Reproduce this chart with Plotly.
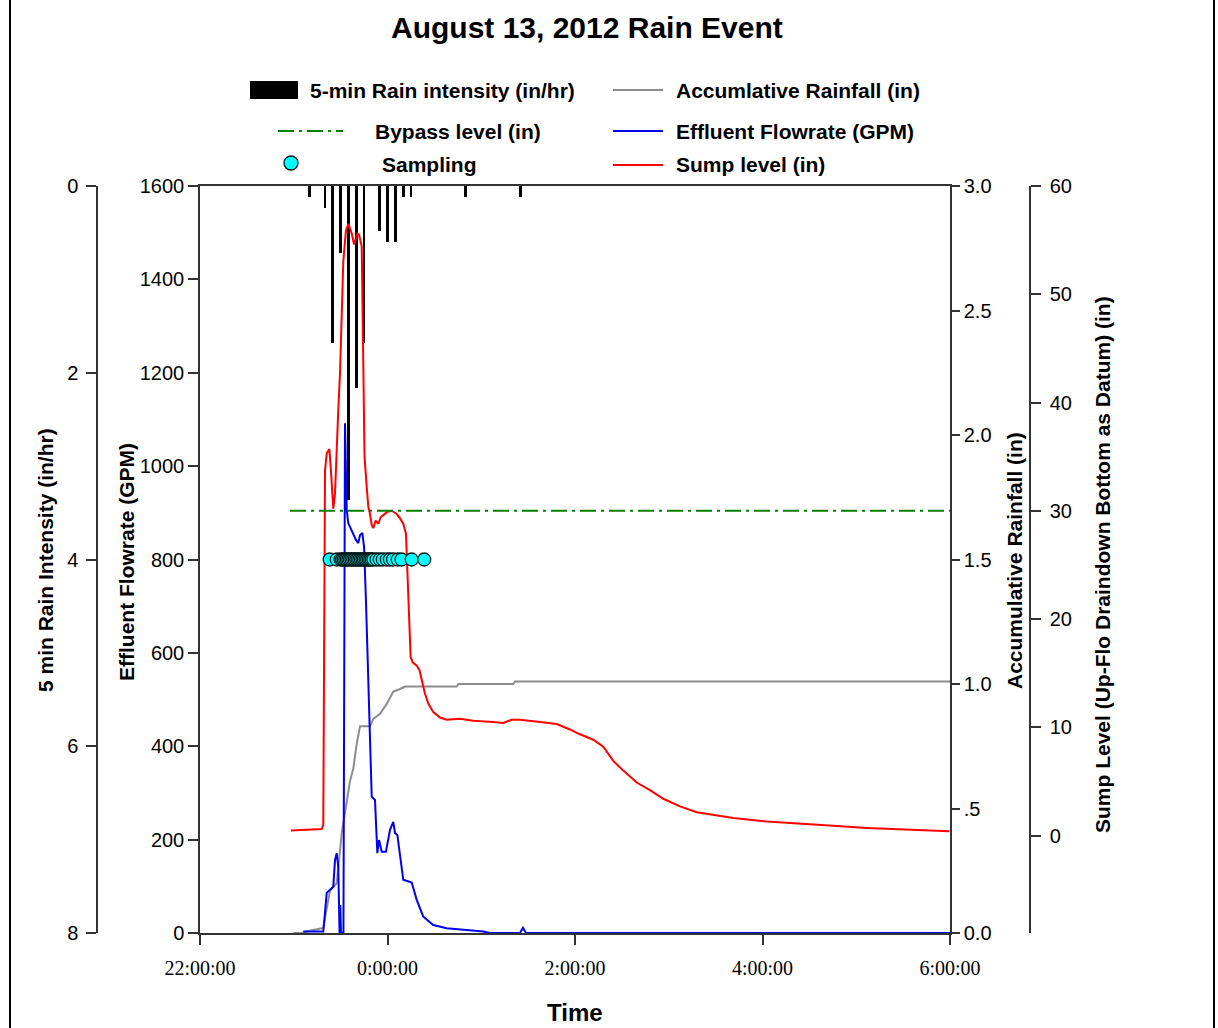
import pandas as pd
import plotly.graph_objects as go

W, H = 1218, 1028

# ---------------- data (time = minutes from midnight, Aug 13 2012) ----------------
# 5-min rain intensity (in/hr)
rain_t_min = [-50, -40, -35, -30, -25, -20, -15, -5, 0, 5, 10, 15, 50, 85]
rain_in_hr = [0.12, 0.24, 1.68, 0.72, 3.36, 2.16, 1.68, 0.48, 0.60, 0.60, 0.12, 0.12, 0.12, 0.12]

# accumulative rainfall (in)
cum_t_min = [-60.3, -55, -49, -41.1, -36.8, -32.5, -29.3, -26.1, -24.0, -21.9, -19.7, -17.6,
             -11.2, -9.1, -4.8, -0.5, 3.7, 8.0, 11.2, 44.3, 45.3, 80.5, 81.6, 360]
cum_in = [0.00, 0.00, 0.01, 0.02, 0.17, 0.20, 0.40, 0.53, 0.61, 0.66, 0.76, 0.83,
          0.83, 0.86, 0.88, 0.92, 0.97, 0.98, 0.99, 0.99, 1.00, 1.00, 1.01, 1.01]

# effluent flowrate (GPM)
flow_t_min = [-53.9, -41.1, -38.9, -36.8, -34.7, -33.6, -32.5, -31.5, -30.7, -30.2, -29.8, -28.8,
              -28.2, -27.2, -26.1, -25.1, -24.0, -22.9, -21.9, -20.2, -18.7, -17.6, -16.1, -15.0,
              -13.8, -10.1, -8.0, -6.5, -5.4, -3.7, -1.0, 1.6, 3.7, 4.8, 6.3, 10.1, 15.5, 18.7,
              22.9, 29.3, 37.9, 50.7, 61.3, 65.6, 84.8, 86.7, 88.6, 360]
flow_gpm = [3, 3, 86, 92, 99, 156, 171, 142, 0, 60, 0, 0,
            0, 1092, 906, 878, 870, 863, 857, 842, 835, 852, 857, 827,
            713, 292, 285, 171, 199, 174, 174, 221, 238, 214, 210, 114, 108, 71,
            35, 17, 10, 6, 3, 0, 0, 11, 0, 0]

# sump level (in, Up-Flo draindown bottom as datum)
sump_t_min = [-61.8, -42.1, -41.1, -40.6, -40.0, -38.9, -37.2, -36.2, -34.7, -33.6, -32.5, -31.5,
              -30.4, -29.3, -28.3, -26.6, -25.0, -22.9, -21.4, -19.3, -18.2, -16.5, -16.0, -15.4,
              -14.7, -13.3, -12.3, -11.2, -10.1, -9.1, -7.6, -5.9, -4.4, -2.7, -0.1, 2.7, 5.9,
              8.0, 10.1, 11.8, 12.7, 14.0, 14.8, 16.1, 18.7, 20.4, 21.9, 24.0, 26.1, 29.3, 33.6,
              37.9, 46.4, 54.9, 67.7, 74.1, 79.5, 84.8, 97.6, 108.3, 116.8, 122.4, 131.7, 138.1,
              144.5, 150.9, 159.5, 168.0, 176.5, 187.2, 197.9, 208.5, 221.3, 242.7, 264.0, 285.3,
              306.7, 328.0, 349.3, 359.6]
sump_in = [0.46, 0.6, 1.0, 12.5, 33.7, 35.3, 35.7, 33.7, 30.2, 31.6, 36.2, 39.3,
           42.7, 47.5, 53.0, 55.9, 56.5, 55.6, 54.6, 55.6, 55.5, 54.4, 50.0, 42.0,
           35.0, 32.2, 30.4, 29.7, 28.7, 28.4, 29.1, 28.8, 29.4, 29.6, 29.9, 30.0, 29.7,
           29.3, 28.8, 27.9, 24.8, 20.2, 16.5, 16.0, 15.7, 15.3, 14.3, 13.1, 12.2, 11.4, 10.9,
           10.7, 10.8, 10.6, 10.5, 10.4, 10.7, 10.7, 10.5, 10.3, 9.8, 9.4, 8.85, 8.2,
           6.9, 6.0, 4.9, 4.2, 3.4, 2.7, 2.15, 1.94, 1.63, 1.3, 1.08, 0.9,
           0.71, 0.58, 0.46, 0.4]

# bypass level (in)
bypass_t_min = [-62.4, 360]
bypass_in = [30, 30]

# sampling times, plotted at the 800 GPM line
samp_t_min = [-37, -32.5, -30, -29, -28, -27, -26, -25, -24, -23, -22, -21, -20, -19, -18,
              -17, -16, -15, -14, -13, -12, -11, -10, -9, -7, -5, -3, -0.5, 1.5, 3.5, 6.5,
              9, 15.5, 23.5]
samp_level_gpm = 800

time_ticks_min = [-120, 0, 120, 240, 360]
time_tick_text = ["22:00:00", "0:00:00", "2:00:00", "4:00:00", "6:00:00"]
accum_ticks = [0, 0.5, 1.0, 1.5, 2.0, 2.5, 3.0]
accum_tick_text = ["0.0", ".5", "1.0", "1.5", "2.0", "2.5", "3.0"]

MIDNIGHT = pd.Timestamp("2012-08-13 00:00:00")


def clock(mins):
    return [(MIDNIGHT + pd.Timedelta(minutes=m)).strftime("%Y-%m-%d %H:%M:%S") for m in mins]


def px(x):
    return x / W


def py(y):
    return 1 - y / H


SANS = "Liberation Sans, Arial, sans-serif"
SERIF = "Liberation Serif, Times New Roman, serif"
AX_COLOR = "#333333"
TICK_FONT = dict(family=SANS, size=20, color="black")
TITLE_FONT = dict(family=SANS, size=21, color="black", weight="bold")

fig = go.Figure()

fig.add_trace(go.Scatter(x=clock(cum_t_min), y=cum_in, yaxis="y", mode="lines",
                         line=dict(color="#8c8c8c", width=2), showlegend=False))
fig.add_trace(go.Scatter(x=clock(flow_t_min), y=flow_gpm, yaxis="y2", mode="lines",
                         line=dict(color="#0000F0", width=2), showlegend=False))
fig.add_trace(go.Bar(x=clock(rain_t_min), y=rain_in_hr, yaxis="y3", width=110000,
                     marker=dict(color="black", line=dict(width=0)), showlegend=False))
fig.add_trace(go.Scatter(x=clock(sump_t_min), y=sump_in, yaxis="y4", mode="lines",
                         line=dict(color="#FF0000", width=2), showlegend=False))
fig.add_trace(go.Scatter(x=clock(bypass_t_min), y=bypass_in, yaxis="y4", mode="lines",
                         line=dict(color="#008000", width=2, dash="16px,5px,3px,5px"),
                         showlegend=False))
fig.add_trace(go.Scatter(x=clock(samp_t_min), y=[samp_level_gpm] * len(samp_t_min), yaxis="y5",
                         mode="markers",
                         marker=dict(size=13, color="#00FFFF", line=dict(color="#061818", width=1.3)),
                         showlegend=False))

common = dict(showgrid=False, zeroline=False, showline=True, linecolor=AX_COLOR, linewidth=1.5,
              ticks="outside", ticklen=10, tickcolor=AX_COLOR, tickwidth=1.5, tickfont=TICK_FONT,
              automargin=False)

fig.update_layout(
    width=W, height=H,
    autosize=False,
    showlegend=False,
    margin=dict(l=0, r=0, t=0, b=0, pad=0, autoexpand=False),
    paper_bgcolor="white", plot_bgcolor="white",
    bargap=0,
    xaxis=dict(domain=[px(200), px(950)], anchor="y", type="date",
               range=clock([-120, 360]),
               tickvals=clock(time_ticks_min), ticktext=time_tick_text,
               mirror=True, ticklabelstandoff=6,
               **{**common, "tickfont": dict(family=SERIF, size=20, color="black")}),
    yaxis=dict(domain=[py(933), py(186)], anchor="x", side="right", range=[0, 3],
               tickvals=accum_ticks, ticktext=accum_tick_text,
               **{**common, "ticklen": 8}),
    yaxis2=dict(overlaying="y", anchor="x", side="left", range=[0, 1600],
                tickvals=[0, 200, 400, 600, 800, 1000, 1200, 1400, 1600], **common),
    yaxis3=dict(overlaying="y", anchor="free", position=px(97), side="left", range=[8, 0],
                tickvals=[0, 2, 4, 6, 8], ticklabelstandoff=4, **common),
    yaxis4=dict(overlaying="y", anchor="free", position=px(1030), side="right", range=[-9, 60],
                tickvals=[0, 10, 20, 30, 40, 50, 60], ticklabelstandoff=5, **common),
    yaxis5=dict(overlaying="y", range=[0, 1600], visible=False),
)

annotations = [
    dict(text="August 13, 2012 Rain Event", x=px(587), y=py(27),
         font=dict(family=SANS, size=30, color="black", weight="bold")),
    dict(text="Time", x=px(575), y=py(1012), font=dict(family=SANS, size=24, color="black", weight="bold")),
    dict(text="5 min Rain Intensity (in/hr)", x=px(45), y=py(560), textangle=-90, font=TITLE_FONT),
    dict(text="Effluent Flowrate (GPM)", x=px(126), y=py(562), textangle=-90, font=TITLE_FONT),
    dict(text="Accumulative Rainfall (in)", x=px(1014), y=py(561), textangle=-90, font=TITLE_FONT),
    dict(text="Sump Level (Up-Flo Draindown Bottom as Datum) (in)", x=px(1102), y=py(565),
         textangle=-90, font=TITLE_FONT),
]
legend_font = dict(family=SANS, size=21, color="black", weight="bold")
legend_rows = [
    ("5-min Rain intensity (in/hr)", 308, 90),
    ("Bypass level (in)", 373, 131),
    ("Sampling", 380, 165),
    ("Accumlative Rainfall (in)", 674, 90),
    ("Effluent Flowrate (GPM)", 674, 131),
    ("Sump level (in)", 674, 165),
]
for text, lx, ly in legend_rows:
    annotations.append(dict(text=text, x=px(lx), y=py(ly), xanchor="left", font=legend_font))
for a in annotations:
    a.setdefault("xref", "paper")
    a.setdefault("yref", "paper")
    a.setdefault("xanchor", "center")
    a.setdefault("yanchor", "middle")
    a.setdefault("showarrow", False)
fig.update_layout(annotations=annotations)

shapes = [
    # legend keys
    dict(type="rect", x0=px(250), x1=px(298), y0=py(99), y1=py(81),
         fillcolor="black", line=dict(width=0)),
    dict(type="line", x0=px(278), x1=px(343), y0=py(131), y1=py(131),
         line=dict(color="#008000", width=2, dash="16px,5px,3px,5px")),
    dict(type="circle", x0=px(284), x1=px(298), y0=py(170), y1=py(156),
         fillcolor="#00FFFF", line=dict(color="#061818", width=1.3)),
    dict(type="line", x0=px(613), x1=px(663), y0=py(90), y1=py(90),
         line=dict(color="#8c8c8c", width=2)),
    dict(type="line", x0=px(613), x1=px(663), y0=py(131), y1=py(131),
         line=dict(color="#0000F0", width=2)),
    dict(type="line", x0=px(613), x1=px(663), y0=py(165), y1=py(165),
         line=dict(color="#FF0000", width=2)),
    # outer frame
    dict(type="line", x0=px(10), x1=px(10), y0=0, y1=1, line=dict(color="black", width=2)),
    dict(type="line", x0=px(1214), x1=px(1214), y0=0, y1=1, line=dict(color="black", width=2)),
]
for s in shapes:
    s["xref"] = "paper"
    s["yref"] = "paper"
fig.update_layout(shapes=shapes)

fig.write_html("out.html")
